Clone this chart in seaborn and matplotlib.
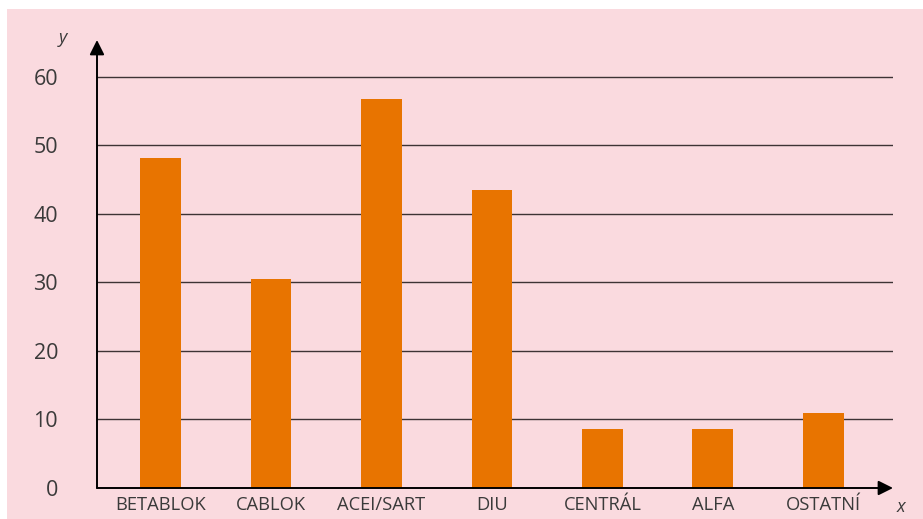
import pandas as pd
import matplotlib.pyplot as plt
import seaborn as sns
from matplotlib.patches import Rectangle

# Data
categories = ["BETABLOK", "CABLOK", "ACEI/SART", "DIU", "CENTRÁL", "ALFA", "OSTATNÍ"]
values = [48.2, 30.5, 56.8, 43.5, 8.6, 8.6, 10.9]
yticks = [0, 10, 20, 30, 40, 50, 60]

df = pd.DataFrame({"kategorie": categories, "hodnota": values})

pink = "#FADADF"
orange = "#E87400"
text_col = "#3a3a3a"

plt.rcParams["font.family"] = ["Open Sans", "DejaVu Sans"]

fig = plt.figure(figsize=(9.23, 5.19), dpi=100)
fig.patch.set_facecolor("white")
fig.patches.append(Rectangle((7 / 923, 0), 1, 510 / 519, transform=fig.transFigure,
                             facecolor=pink, edgecolor="none", zorder=-10))

ax = fig.add_axes([97 / 923, 1 - 488 / 519, (893 - 97) / 923, (488 - 40) / 519])
ax.set_facecolor("none")
ax.set_zorder(5)

sns.barplot(data=df, x="kategorie", y="hodnota", color=orange, width=0.37,
            saturation=1, ax=ax, zorder=3)

ax.set_xlim(-0.575, 6.63)
ax.set_ylim(0, 65.4)

# horizontal grid lines
for v in yticks[1:]:
    ax.axhline(v, color="#3d3335", lw=1.0, zorder=1)

for s in ax.spines.values():
    s.set_visible(False)

# axes with arrows
ax.annotate("", xy=(0, 1), xytext=(0, 0), xycoords="axes fraction",
            arrowprops=dict(arrowstyle="-|>", color="black", lw=1.4,
                            mutation_scale=22, shrinkA=0, shrinkB=0), zorder=5)
ax.annotate("", xy=(1, 0), xytext=(0, 0), xycoords="axes fraction",
            arrowprops=dict(arrowstyle="-|>", color="black", lw=1.4,
                            mutation_scale=22, shrinkA=0, shrinkB=0), zorder=5)

ax.set_yticks(yticks)
ax.set_yticklabels([str(v) for v in yticks], fontsize=15.5, color=text_col)
ax.set_xticks(range(len(categories)))
ax.set_xticklabels(categories, fontsize=13.2, color=text_col)
ax.tick_params(axis="y", length=0, pad=28)
ax.tick_params(axis="x", length=0, pad=6)

ax.set_xlabel("")
ax.set_ylabel("")

fig.text(63 / 923, 1 - 38 / 519, "y", fontsize=13, style="italic", color=text_col,
         ha="center", va="center")
fig.text(901 / 923, 1 - 507 / 519, "x", fontsize=13, style="italic", color=text_col,
         ha="center", va="center")

plt.savefig("out.png", dpi=100, facecolor=fig.get_facecolor())
